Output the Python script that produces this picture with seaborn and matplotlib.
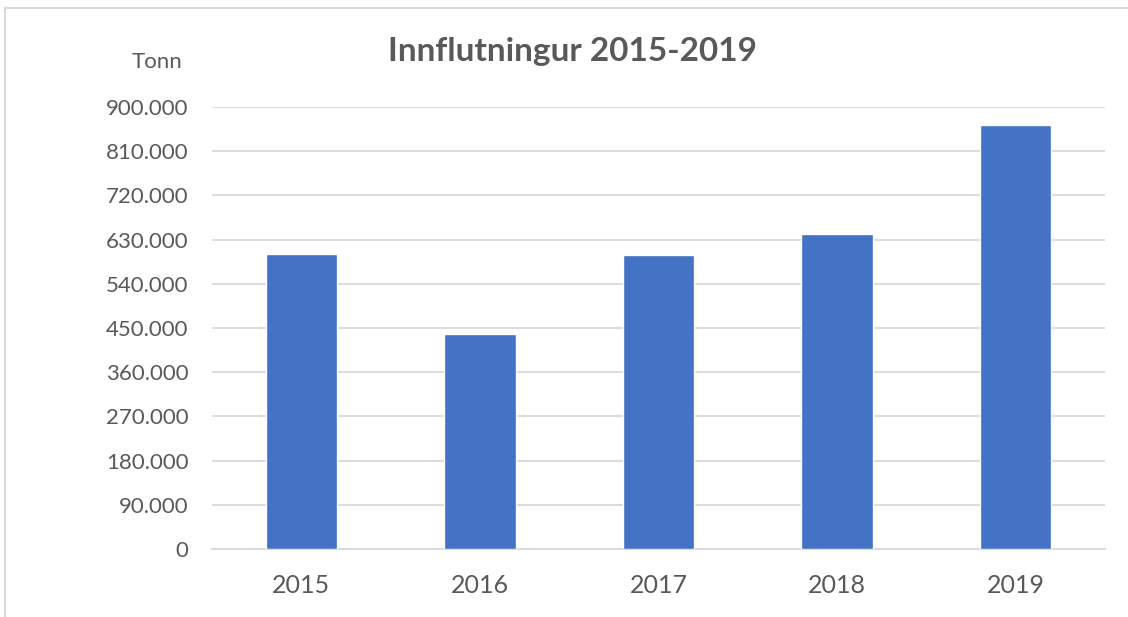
import matplotlib
matplotlib.use("Agg")
import matplotlib.pyplot as plt
import seaborn as sns
import pandas as pd
from matplotlib.patches import Rectangle
from matplotlib.ticker import FuncFormatter, MultipleLocator

years = ["2015", "2016", "2017", "2018", "2019"]
values = [601000, 437000, 599000, 641000, 863000]
title = "Innflutningur 2015-2019"
unit_label = "Tonn"

sns.set_theme(style="white")
plt.rcParams['font.family'] = ['Lato', 'DejaVu Sans']

df = pd.DataFrame({"year": years, "value": values})

fig = plt.figure(figsize=(11.28, 6.17), dpi=100)
ax = fig.add_axes([212/1128, 1 - 549/617, (1105-212)/1128, (549-107)/617])

sns.barplot(data=df, x="year", y="value", color="#4472C4", width=0.4,
            saturation=1, ax=ax, zorder=3)

ax.set_ylim(0, 900000)
ax.yaxis.set_major_locator(MultipleLocator(90000))
ax.yaxis.set_major_formatter(FuncFormatter(lambda v, p: "0" if v == 0 else f"{int(v):,}".replace(",", ".")))
ax.grid(axis="y", color="#D9D9D9", linewidth=1.3, zorder=0)
ax.set_axisbelow(True)
for s in ["top", "right", "left"]:
    ax.spines[s].set_visible(False)
ax.spines["bottom"].set_color("#D9D9D9")
ax.spines["bottom"].set_linewidth(1.3)
ax.set_xlabel("")
ax.set_ylabel("")
ax.tick_params(axis="y", labelsize=16, colors="#595959", length=0, pad=17)
ax.tick_params(axis="x", labelsize=18, colors="#595959", length=0, pad=18)

fig.text(157/1128, 1 - 62/617, unit_label, ha="center", va="center",
         fontsize=16, color="#595959")
fig.text(572/1128, 1 - 51/617, title, ha="center", va="center",
         fontsize=24, fontweight="bold", color="#595959")

fig.patches.append(Rectangle((5/1128, -0.1), 1.2, 1 - 8/617 + 0.1,
                             transform=fig.transFigure, fill=False,
                             edgecolor="#D9D9D9", linewidth=1.5))

fig.savefig("out.png", dpi=100, facecolor="white")
